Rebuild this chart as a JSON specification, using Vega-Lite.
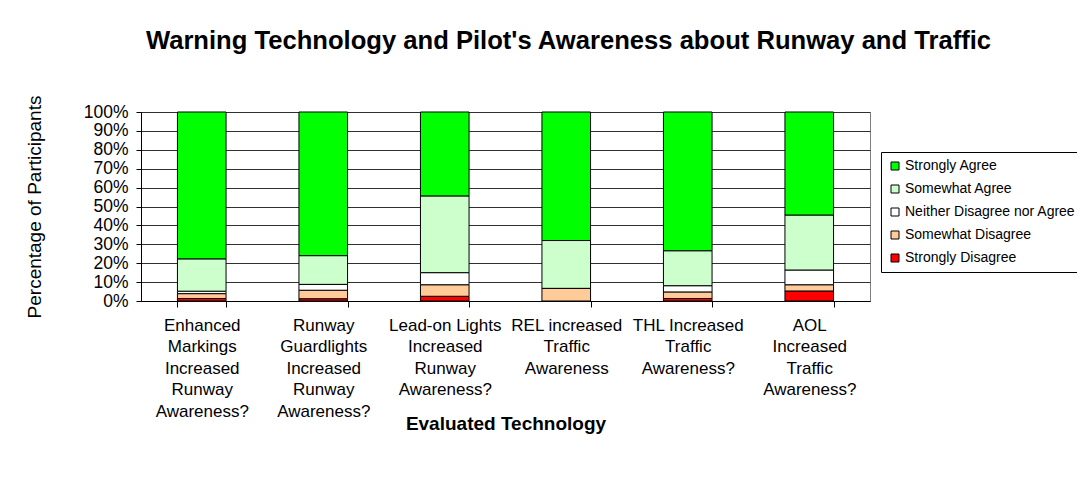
{
  "$schema": "https://vega.github.io/schema/vega-lite/v6.json",
  "autosize": {"type": "none"},
  "padding": {"left": 141, "top": 112, "right": 207, "bottom": 192},
  "width": 729,
  "height": 189,
  "background": "white",
  "title": {
    "text": "Warning Technology and Pilot's Awareness about Runway and Traffic",
    "font": "Liberation Sans",
    "fontSize": 25.6,
    "fontWeight": "bold",
    "color": "black",
    "anchor": "middle",
    "frame": "group",
    "baseline": "alphabetic",
    "offset": 20,
    "dx": 63
  },
  "data": {
    "values": [
      {"technology": "Enhanced Markings Increased Runway Awareness?", "response": "Strongly Disagree", "rank": 1, "pct": 1.3},
      {"technology": "Enhanced Markings Increased Runway Awareness?", "response": "Somewhat Disagree", "rank": 2, "pct": 2.6},
      {"technology": "Enhanced Markings Increased Runway Awareness?", "response": "Neither Disagree nor Agree", "rank": 3, "pct": 1.3},
      {"technology": "Enhanced Markings Increased Runway Awareness?", "response": "Somewhat Agree", "rank": 4, "pct": 17.1},
      {"technology": "Enhanced Markings Increased Runway Awareness?", "response": "Strongly Agree", "rank": 5, "pct": 77.7},
      {"technology": "Runway Guardlights Increased Runway Awareness?", "response": "Strongly Disagree", "rank": 1, "pct": 1.2},
      {"technology": "Runway Guardlights Increased Runway Awareness?", "response": "Somewhat Disagree", "rank": 2, "pct": 4.5},
      {"technology": "Runway Guardlights Increased Runway Awareness?", "response": "Neither Disagree nor Agree", "rank": 3, "pct": 3.1},
      {"technology": "Runway Guardlights Increased Runway Awareness?", "response": "Somewhat Agree", "rank": 4, "pct": 15.2},
      {"technology": "Runway Guardlights Increased Runway Awareness?", "response": "Strongly Agree", "rank": 5, "pct": 76.0},
      {"technology": "Lead-on Lights Increased Runway Awareness?", "response": "Strongly Disagree", "rank": 1, "pct": 2.5},
      {"technology": "Lead-on Lights Increased Runway Awareness?", "response": "Somewhat Disagree", "rank": 2, "pct": 6.1},
      {"technology": "Lead-on Lights Increased Runway Awareness?", "response": "Neither Disagree nor Agree", "rank": 3, "pct": 6.4},
      {"technology": "Lead-on Lights Increased Runway Awareness?", "response": "Somewhat Agree", "rank": 4, "pct": 40.6},
      {"technology": "Lead-on Lights Increased Runway Awareness?", "response": "Strongly Agree", "rank": 5, "pct": 44.4},
      {"technology": "REL increased Traffic Awareness", "response": "Strongly Disagree", "rank": 1, "pct": 0},
      {"technology": "REL increased Traffic Awareness", "response": "Somewhat Disagree", "rank": 2, "pct": 6.7},
      {"technology": "REL increased Traffic Awareness", "response": "Neither Disagree nor Agree", "rank": 3, "pct": 0},
      {"technology": "REL increased Traffic Awareness", "response": "Somewhat Agree", "rank": 4, "pct": 25.3},
      {"technology": "REL increased Traffic Awareness", "response": "Strongly Agree", "rank": 5, "pct": 68.0},
      {"technology": "THL Increased Traffic Awareness?", "response": "Strongly Disagree", "rank": 1, "pct": 1.3},
      {"technology": "THL Increased Traffic Awareness?", "response": "Somewhat Disagree", "rank": 2, "pct": 3.5},
      {"technology": "THL Increased Traffic Awareness?", "response": "Neither Disagree nor Agree", "rank": 3, "pct": 3.3},
      {"technology": "THL Increased Traffic Awareness?", "response": "Somewhat Agree", "rank": 4, "pct": 18.5},
      {"technology": "THL Increased Traffic Awareness?", "response": "Strongly Agree", "rank": 5, "pct": 73.4},
      {"technology": "AOL Increased Traffic Awareness?", "response": "Strongly Disagree", "rank": 1, "pct": 5.3},
      {"technology": "AOL Increased Traffic Awareness?", "response": "Somewhat Disagree", "rank": 2, "pct": 3.3},
      {"technology": "AOL Increased Traffic Awareness?", "response": "Neither Disagree nor Agree", "rank": 3, "pct": 7.8},
      {"technology": "AOL Increased Traffic Awareness?", "response": "Somewhat Agree", "rank": 4, "pct": 29.1},
      {"technology": "AOL Increased Traffic Awareness?", "response": "Strongly Agree", "rank": 5, "pct": 54.5}
    ]
  },
  "mark": {"type": "bar", "stroke": "black", "strokeWidth": 1},
  "encoding": {
    "x": {
      "field": "technology",
      "type": "nominal",
      "sort": null,
      "scale": {"paddingInner": 0.6, "paddingOuter": 0.3},
      "axis": {
        "title": "Evaluated Technology",
        "titleFont": "Liberation Sans",
        "titleFontSize": 19,
        "titleFontWeight": "bold",
        "titleColor": "black",
        "titleY": 122,
        "titleBaseline": "middle",
        "labelAngle": 0,
        "labelFont": "Liberation Sans",
        "labelFontSize": 17,
        "labelColor": "black",
        "labelBaseline": "top",
        "labelLineHeight": 21.5,
        "labelPadding": 10,
        "labelLimit": 0,
        "labelExpr": "slice(datum.label,0,3) == 'Enh' ? ['Enhanced','Markings','Increased','Runway','Awareness?'] : slice(datum.label,0,3) == 'Run' ? ['Runway','Guardlights','Increased','Runway','Awareness?'] : slice(datum.label,0,3) == 'Lea' ? ['Lead-on Lights','Increased','Runway','Awareness?'] : slice(datum.label,0,3) == 'REL' ? ['REL increased','Traffic','Awareness'] : slice(datum.label,0,3) == 'THL' ? ['THL Increased','Traffic','Awareness?'] : slice(datum.label,0,3) == 'AOL' ? ['AOL','Increased','Traffic','Awareness?'] : ''",
        "tickBand": "extent",
        "tickSize": 6,
        "tickColor": "black",
        "domainColor": "black",
        "grid": false
      }
    },
    "y": {
      "field": "pct",
      "type": "quantitative",
      "stack": "normalize",
      "scale": {"domain": [0, 1]},
      "axis": {
        "title": "Percentage of Participants",
        "titleFont": "Liberation Sans",
        "titleFontSize": 19,
        "titleFontWeight": "normal",
        "titleColor": "black",
        "titleX": -107,
        "titleY": 94.5,
        "titleAngle": -90,
        "titleAlign": "center",
        "titleBaseline": "middle",
        "values": [0, 0.1, 0.2, 0.3, 0.4, 0.5, 0.6, 0.7, 0.8, 0.9, 1],
        "format": ".0%",
        "labelFont": "Liberation Sans",
        "labelFontSize": 17.5,
        "labelColor": "black",
        "labelPadding": 8,
        "tickSize": 5,
        "tickColor": "black",
        "domainColor": "black",
        "grid": true,
        "gridColor": "#303030",
        "gridOpacity": 1
      }
    },
    "color": {
      "field": "response",
      "type": "nominal",
      "scale": {
        "domain": ["Strongly Agree", "Somewhat Agree", "Neither Disagree nor Agree", "Somewhat Disagree", "Strongly Disagree"],
        "range": ["#00FF00", "#CCFFCC", "#FFFFFF", "#FFCC99", "#FF0000"]
      },
      "legend": {
        "title": null,
        "orient": "none",
        "legendX": 740,
        "legendY": 40,
        "strokeColor": "black",
        "fillColor": "white",
        "padding": 7,
        "symbolType": "square",
        "symbolSize": 64,
        "symbolStrokeColor": "black",
        "symbolStrokeWidth": 1,
        "symbolOpacity": 1,
        "labelFont": "Liberation Sans",
        "labelFontSize": 14,
        "labelColor": "black",
        "labelOffset": 3,
        "labelLimit": 0,
        "rowPadding": 9
      }
    },
    "order": {"field": "rank", "type": "quantitative"}
  },
  "config": {
    "view": {"stroke": "#808080"}
  }
}
